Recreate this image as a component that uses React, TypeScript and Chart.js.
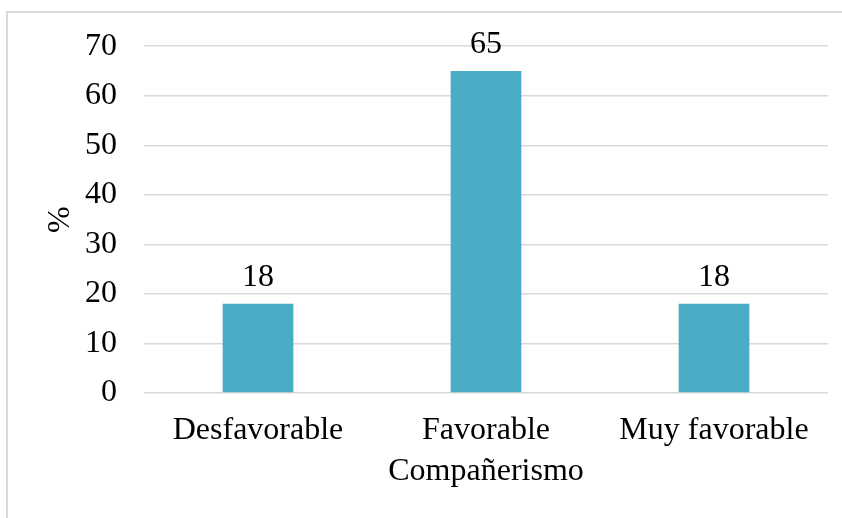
import React, { useEffect, useRef } from "react";
import { Chart, registerables, Plugin } from "chart.js";

Chart.register(...registerables);

const categories = ["Desfavorable", "Favorable", "Muy favorable"];
const percentages = [18, 65, 18];
const yTicks = [0, 10, 20, 30, 40, 50, 60, 70];

const xTitle = "Compañerismo";
const yTitle = "%";

const FONT = "'Liberation Serif', 'Times New Roman', serif";
const BAR_COLOR = "#4bacc6";
const GRID_COLOR = "#d9d9d9";

// Writes each bar's value above it.
const valueLabels: Plugin<"bar"> = {
  id: "valueLabels",
  afterDatasetsDraw(chart) {
    const { ctx } = chart;
    const meta = chart.getDatasetMeta(0);
    ctx.save();
    ctx.font = `32px ${FONT}`;
    ctx.fillStyle = "#000000";
    ctx.textAlign = "center";
    ctx.textBaseline = "alphabetic";
    meta.data.forEach((bar, i) => {
      const v = chart.data.datasets[0].data[i] as number;
      ctx.fillText(String(v), bar.x, bar.y - 18);
    });
    ctx.restore();
  },
};

export default function App() {
  const canvasRef = useRef<HTMLCanvasElement>(null);

  useEffect(() => {
    if (!canvasRef.current) return;
    const chart = new Chart(canvasRef.current, {
      type: "bar",
      data: {
        labels: categories,
        datasets: [
          {
            data: percentages,
            backgroundColor: BAR_COLOR,
            borderWidth: 0,
            categoryPercentage: 1,
            barPercentage: 0.31,
          },
        ],
      },
      options: {
        responsive: false,
        animation: false,
        devicePixelRatio: 1,
        layout: { padding: { top: 43, right: 14, left: 0, bottom: 0 } },
        plugins: {
          legend: { display: false },
          tooltip: { enabled: false },
        },
        scales: {
          x: {
            grid: { display: false, drawTicks: false },
            border: { display: false },
            ticks: {
              color: "#000000",
              font: { family: FONT, size: 32 },
              padding: 18,
              maxRotation: 0,
              autoSkip: false,
            },
            title: {
              display: true,
              text: xTitle,
              color: "#000000",
              font: { family: FONT, size: 32 },
              padding: { top: 0, bottom: 27 },
            },
            afterFit(scale) {
              scale.height = 125;
            },
          },
          y: {
            min: 0,
            max: 70,
            afterBuildTicks(scale) {
              scale.ticks = yTicks.map((value) => ({ value }));
            },
            grid: { color: GRID_COLOR, lineWidth: 1.5, drawTicks: false },
            border: { display: false },
            ticks: {
              color: "#000000",
              font: { family: FONT, size: 32 },
              padding: 27,
            },
            title: {
              display: true,
              text: yTitle,
              color: "#000000",
              font: { family: FONT, size: 32 },
              padding: { top: 41, bottom: 0 },
            },
            afterFit(scale) {
              scale.width = 144;
            },
          },
        },
      },
      plugins: [valueLabels],
    });
    return () => chart.destroy();
  }, []);

  return (
    <div
      style={{
        position: "fixed",
        left: 0,
        top: 0,
        width: 842,
        height: 518,
        overflow: "hidden",
        background: "#ffffff",
      }}
    >
      <div
        style={{
          position: "absolute",
          left: 6,
          top: 11,
          width: 900,
          height: 600,
          border: `2px solid ${GRID_COLOR}`,
          boxSizing: "border-box",
        }}
      />
      <canvas
        ref={canvasRef}
        width={842}
        height={518}
        style={{ position: "absolute", left: 0, top: 0, width: 842, height: 518 }}
      />
    </div>
  );
}
